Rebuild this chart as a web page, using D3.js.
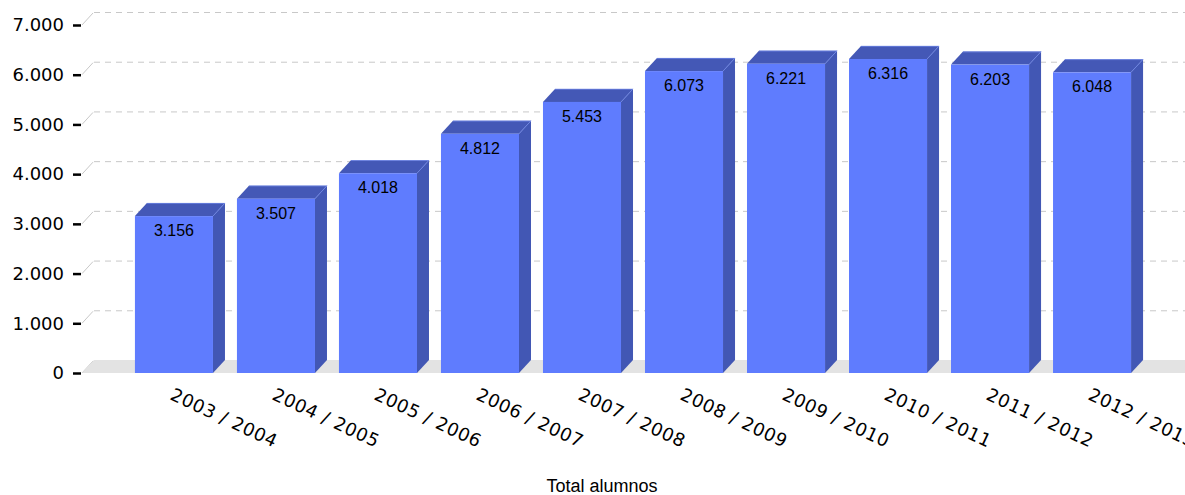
<!DOCTYPE html>
<html>
<head>
<meta charset="utf-8">
<script src="https://cdn.jsdelivr.net/npm/d3@7/dist/d3.min.js"></script>
<style>
html,body{margin:0;padding:0;background:#fff;}
svg{display:block;}
</style>
</head>
<body>
<svg id="chart" width="1185" height="495"></svg>
<script>
const categories = ["2003 / 2004","2004 / 2005","2005 / 2006","2006 / 2007","2007 / 2008","2008 / 2009","2009 / 2010","2010 / 2011","2011 / 2012","2012 / 2013"];
const values = [3156,3507,4018,4812,5453,6073,6221,6316,6203,6048];
const yTicks = [0,1000,2000,3000,4000,5000,6000,7000];
const seriesName = "Total alumnos";

const W = 1185, H = 495;
const DX = 12, DY = 13;
const svg = d3.select("#chart");

const y = d3.scaleLinear().domain([0,7000]).range([373,25]);
const x = d3.scaleBand().domain(categories).range([123,1143]).paddingInner(0.235).paddingOuter(0.117);

const fmt = v => d3.format(",")(v).replace(/,/g,".");

// gridlines in back plane
const grid = svg.append("g");
yTicks.forEach(t => {
  const yy = y(t);
  grid.append("line").attr("x1",82).attr("y1",yy).attr("x2",82+DX-1).attr("y2",yy-DY+1)
    .attr("stroke","#c8c8c8").attr("stroke-width",1);
  grid.append("line").attr("x1",82+DX).attr("y1",yy-DY+0.5).attr("x2",W).attr("y2",yy-DY+0.5)
    .attr("stroke","#c8c8c8").attr("stroke-width",1).attr("stroke-dasharray","6,5");
});

// floor
svg.append("path")
  .attr("d",`M82,${y(0)} L${82+DX},${y(0)-DY} L${W},${y(0)-DY} L${W},${y(0)} Z`)
  .attr("fill","#e3e3e3");

// y axis ticks & labels
const yAxis = d3.axisLeft(y).tickValues(yTicks).tickFormat(fmt).tickSize(8).tickPadding(9);
const ya = svg.append("g").attr("transform","translate(81,0)").call(yAxis);
ya.select(".domain").remove();
ya.selectAll(".tick line").attr("stroke","#000").attr("stroke-width",2.5);
ya.selectAll(".tick text").attr("font-family","DejaVu Sans").attr("font-size",18).attr("fill","#000");

// bars
const bars = svg.append("g").selectAll("g").data(categories).join("g");
bars.each(function(c,i){
  const g = d3.select(this);
  const x0 = x(c), x1 = x(c)+x.bandwidth();
  const yt = y(values[i]), yb = y(0);
  g.append("path").attr("d",`M${x1},${yt} L${x1+DX},${yt-DY} L${x1+DX},${yb-DY} L${x1},${yb} Z`).attr("fill","#4257b4");
  g.append("path").attr("d",`M${x0},${yt} L${x0+DX},${yt-DY} L${x1+DX},${yt-DY} L${x1},${yt} Z`).attr("fill","#4458b6");
  g.append("line").attr("x1",x1).attr("y1",yt).attr("x2",x1+DX).attr("y2",yt-DY).attr("stroke","#6f86e6").attr("stroke-width",0.8);
  g.append("line").attr("x1",x0+DX).attr("y1",yt-DY+0.3).attr("x2",x1+DX).attr("y2",yt-DY+0.3).attr("stroke","#6f86e6").attr("stroke-width",0.8);
  g.append("rect").attr("x",x0).attr("y",yt).attr("width",x.bandwidth()).attr("height",yb-yt).attr("fill","#5f7cfe");
  g.append("text").attr("x",(x0+x1)/2).attr("y",yt+20).attr("text-anchor","middle")
    .attr("font-family","Liberation Sans, Arial").attr("font-size",16).attr("fill","#000").text(fmt(values[i]));
});

// x labels
const xl = svg.append("g");
categories.forEach(c => {
  const cx = x(c)+x.bandwidth()/2;
  xl.append("text").attr("transform",`translate(${cx-5},399) rotate(25)`)
    .attr("font-family","DejaVu Sans").attr("font-size",18).attr("letter-spacing",0.6).attr("fill","#000").text(c);
});

// series label
svg.append("text").attr("x",602).attr("y",492).attr("text-anchor","middle")
  .attr("font-family","Liberation Sans, Arial").attr("font-size",18).attr("fill","#000").text(seriesName);
</script>
</body>
</html>
